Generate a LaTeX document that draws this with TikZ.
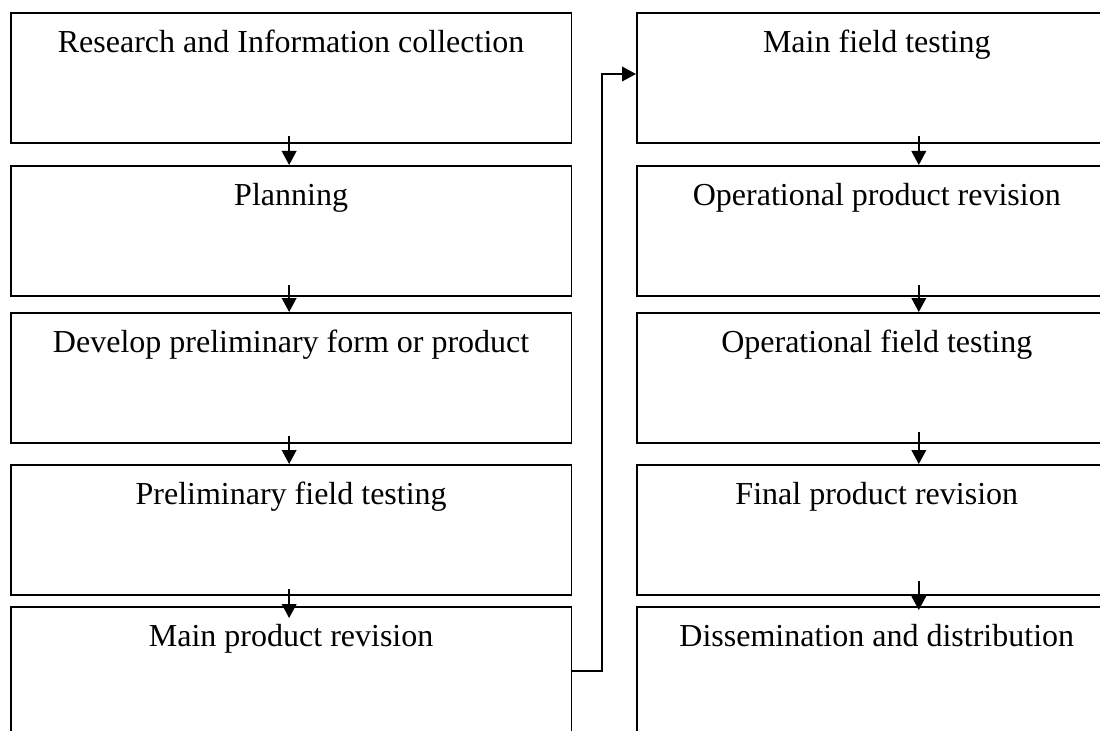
\documentclass[tikz,border=0pt]{standalone}
\usepackage{fontspec}
\setmainfont{Liberation Serif}
\usetikzlibrary{arrows.meta}
\begin{document}
\begin{tikzpicture}[x=0.75pt,y=-0.75pt,
  stage/.style={draw=black, line width=1.2pt, fill=none, inner sep=0pt, anchor=north west,
    text height=30pt, text depth=67.5pt,
    font=\fontsize{24pt}{28pt}\selectfont},
  leftstage/.style={stage, minimum width=420.5pt},
  rightstage/.style={stage, minimum width=360pt},
  flow/.style={line width=1.2pt, -{Triangle[length=10.5pt,width=11pt]}}]
\useasboundingbox (0,0) rectangle (1100,731);
% left column
\node[leftstage] (l1) at (10,12)  {Research and Information collection};
\node[leftstage] (l2) at (10,165) {Planning};
\node[leftstage] (l3) at (10,312) {Develop preliminary form or product};
\node[leftstage] (l4) at (10,464) {Preliminary field testing};
\node[leftstage] (l5) at (10,606) {Main product revision};
% right column
\node[rightstage] (r1) at (636,12)  {Main field testing};
\node[rightstage] (r2) at (636,165) {Operational product revision};
\node[rightstage] (r3) at (636,312) {Operational field testing};
\node[rightstage] (r4) at (636,464) {Final product revision};
\node[rightstage] (r5) at (636,606) {Dissemination and distribution};
% left arrows
\draw[flow] ([xshift=-1.5pt,yshift=6pt]l1.south) -- ([xshift=-1.5pt]l2.north);
\draw[flow] ([xshift=-1.5pt,yshift=9pt]l2.south) -- ([xshift=-1.5pt]l3.north);
\draw[flow] ([xshift=-1.5pt,yshift=6pt]l3.south) -- ([xshift=-1.5pt]l4.north);
\draw[flow] ([xshift=-1.5pt,yshift=5pt]l4.south) -- ([xshift=-1.5pt,yshift=-9pt]l5.north);
% right arrows
\draw[flow] ([xshift=31.5pt,yshift=6pt]r1.south) -- ([xshift=31.5pt]r2.north);
\draw[flow] ([xshift=31.5pt,yshift=9pt]r2.south) -- ([xshift=31.5pt]r3.north);
\draw[flow] ([xshift=31.5pt,yshift=9pt]r3.south) -- ([xshift=31.5pt]r4.north);
\draw[flow] ([xshift=31.5pt,yshift=11pt]r4.south) -- ([xshift=31.5pt,yshift=-3pt]r5.north);
% connector between columns
\coordinate (c1) at (602,671);
\coordinate (c2) at (602,74);
\draw[flow] (l5.east |- c1) -- (c1) -- (c2) -- (r1.west |- c2);
\end{tikzpicture}
\end{document}
